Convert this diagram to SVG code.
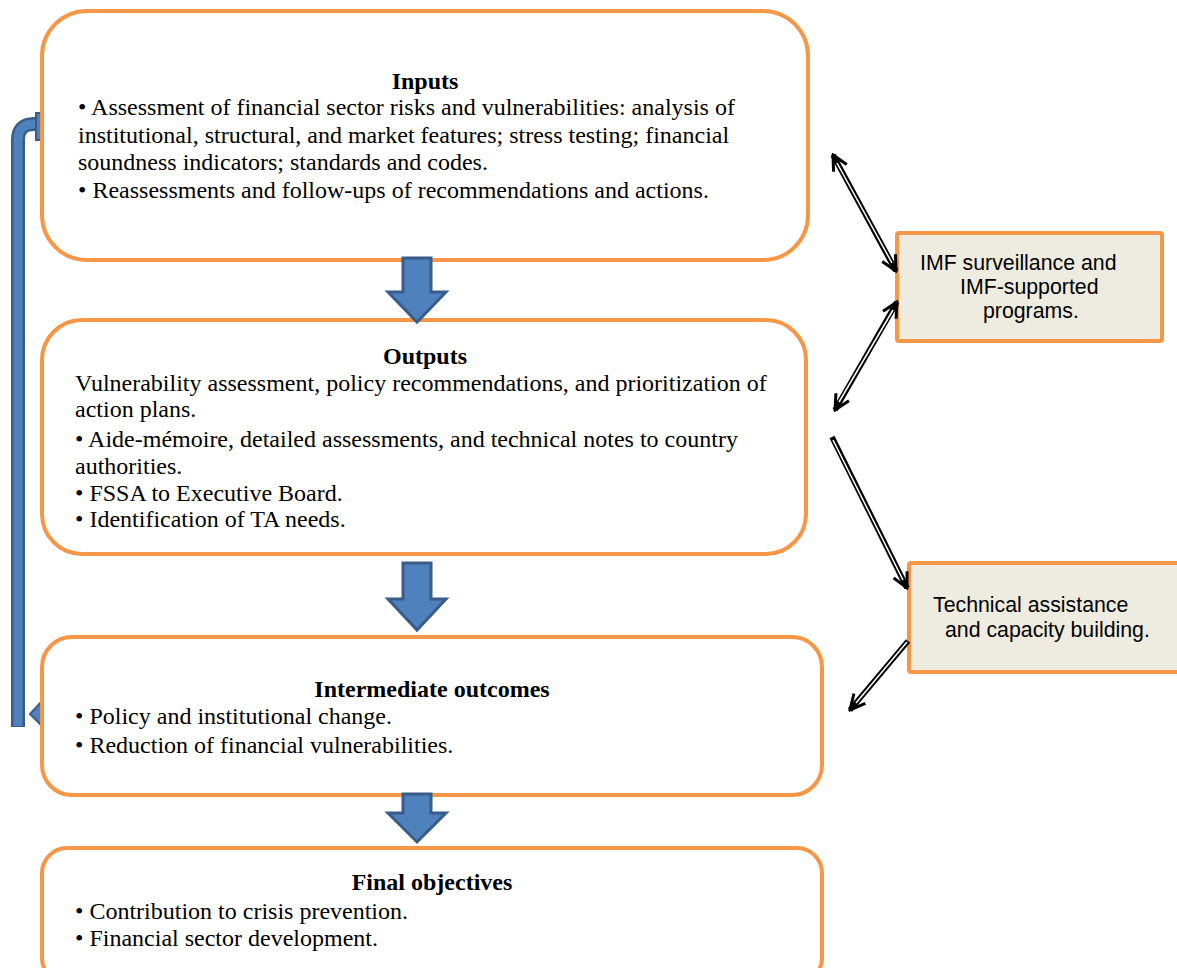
<svg xmlns="http://www.w3.org/2000/svg" width="1177" height="968" viewBox="0 0 1177 968">
  <style>
    .box { fill: #FFFFFF; stroke: #F79646; stroke-width: 4; }
    .side { fill: #EEECE1; stroke: #F79646; stroke-width: 4; }
    .t { font-family: "Liberation Serif", "Times New Roman", serif; font-size: 24px; fill: #000; }
    .h { font-family: "Liberation Serif", "Times New Roman", serif; font-size: 24px; font-weight: bold; fill: #000; text-anchor: middle; }
    .s { font-family: "Liberation Sans", Arial, sans-serif; font-size: 21.3px; fill: #000; }
    .blk { fill: #4F81BD; stroke: #385D8A; stroke-width: 3; stroke-linejoin: miter; }
    .dl-out { fill: none; stroke: #000; stroke-width: 5.5; }
    .dl-in { fill: none; stroke: #FFF; stroke-width: 1.5; }
  </style>
  <defs>
    <marker id="vhead" viewBox="0 0 18 18" refX="16" refY="9" markerWidth="18" markerHeight="18" markerUnits="userSpaceOnUse" orient="auto-start-reverse">
      <path d="M1,1.5 L16,9 L1,16.5" fill="none" stroke="#000" stroke-width="3"/>
    </marker>
  </defs>

  <!-- feedback loop bar on the left -->
  <g id="feedback">
    <path d="M18,727 L18,140 Q18,124 34,124 L42,124" fill="none" stroke="#385D8A" stroke-width="14"/>
    <path d="M18,726 L18,140 Q18,124 34,124 L41,124" fill="none" stroke="#4F81BD" stroke-width="9"/>
    <rect x="36" y="113" width="7" height="27" fill="#4F81BD" stroke="#385D8A" stroke-width="2"/>
    <polygon points="43,700 30,714 43,727" fill="#4F81BD" stroke="#385D8A" stroke-width="2"/>
  </g>

  <!-- main flow boxes -->
  <g id="inputs">
    <rect class="box" x="42" y="11" width="766" height="249" rx="45" ry="45"/>
    <text class="h" x="425" y="89">Inputs</text>
    <text class="t" x="78" y="115">• Assessment of financial sector risks and vulnerabilities: analysis of</text>
    <text class="t" x="78" y="143">institutional, structural, and market features; stress testing; financial</text>
    <text class="t" x="78" y="170">soundness indicators; standards and codes.</text>
    <text class="t" x="78" y="198">• Reassessments and follow-ups of recommendations and actions.</text>
  </g>

  <g id="outputs">
    <rect class="box" x="42" y="320" width="764" height="234" rx="40" ry="40"/>
    <text class="h" x="425" y="364">Outputs</text>
    <text class="t" x="75" y="391">Vulnerability assessment, policy recommendations, and prioritization of</text>
    <text class="t" x="75" y="417">action plans.</text>
    <text class="t" x="75" y="447">• Aide-mémoire, detailed assessments, and technical notes to country</text>
    <text class="t" x="75" y="474">authorities.</text>
    <text class="t" x="75" y="501">• FSSA to Executive Board.</text>
    <text class="t" x="75" y="527">• Identification of TA needs.</text>
  </g>

  <g id="intermediate">
    <rect class="box" x="42" y="637" width="780" height="158" rx="30" ry="30"/>
    <text class="h" x="432" y="697">Intermediate outcomes</text>
    <text class="t" x="75" y="724">• Policy and institutional change.</text>
    <text class="t" x="75" y="753">• Reduction of financial vulnerabilities.</text>
  </g>

  <g id="final">
    <rect class="box" x="42" y="848" width="780" height="135" rx="25" ry="25"/>
    <text class="h" x="432" y="890">Final objectives</text>
    <text class="t" x="75" y="919">• Contribution to crisis prevention.</text>
    <text class="t" x="75" y="946">• Financial sector development.</text>
  </g>

  <!-- side boxes -->
  <g id="surveillance">
    <rect class="side" x="897" y="233" width="265" height="108" rx="2"/>
    <text class="s" x="920" y="270">IMF surveillance and</text>
    <text class="s" x="960" y="294">IMF-supported</text>
    <text class="s" x="983" y="318">programs.</text>
  </g>

  <g id="technical">
    <rect class="side" x="909" y="563" width="275" height="109" rx="2"/>
    <text class="s" x="933" y="612">Technical assistance</text>
    <text class="s" x="945" y="637">and capacity building.</text>
  </g>

  <!-- connectors -->
  <g id="connectors">
    <!-- block arrows between stages -->
    <polygon class="blk" points="403,258 431,258 431,292 446,292 417,322 388,292 403,292"/>
    <polygon class="blk" points="403,563 431,563 431,599 446,599 417,630 388,599 403,599"/>
    <polygon class="blk" points="403,794 431,794 431,813 446,813 417,842 388,813 403,813"/>

    <!-- double-line arrows to/from side boxes -->
    <path class="dl-out" d="M833,155 L896,271" marker-start="url(#vhead)" marker-end="url(#vhead)"/>
    <path class="dl-in" d="M837,163 L892,263"/>
    <path class="dl-out" d="M897,302 L835,410" marker-start="url(#vhead)" marker-end="url(#vhead)"/>
    <path class="dl-in" d="M893,310 L839,402"/>
    <path class="dl-out" d="M832,437 L907,588" marker-end="url(#vhead)"/>
    <path class="dl-in" d="M833,440 L903,580"/>
    <path class="dl-out" d="M908,641 L850,710" marker-end="url(#vhead)"/>
    <path class="dl-in" d="M907,642 L856,703"/>
  </g>
</svg>
